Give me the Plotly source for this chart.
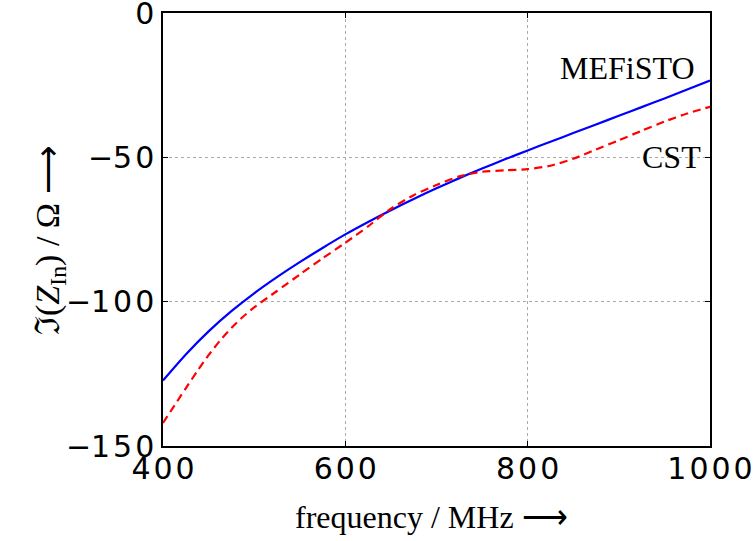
import plotly.graph_objects as go

freq_mefisto = [400, 425, 450, 475, 500, 525, 550, 575, 600, 625, 650, 675, 700, 725,
                750, 775, 800, 825, 850, 875, 900, 925, 950, 975, 1000]
im_mefisto = [-127.3, -118.3, -110.3, -103.3, -97.1, -91.5, -86.3, -81.4, -76.7, -72.4,
              -68.3, -64.4, -60.7, -57.2, -53.9, -50.7, -47.6, -44.6, -41.6, -38.6,
              -35.6, -32.6, -29.6, -26.5, -23.4]

freq_cst = [400, 412.5, 425, 437.5, 450, 462.5, 475, 487.5, 500, 525, 550, 575, 600, 625,
            650, 675, 700, 725, 750, 775, 800, 825, 850, 875, 900, 925, 950, 975, 1000]
im_cst = [-142.0, -136.0, -130.0, -124.1, -118.5, -113.5, -109.1, -105.3, -102.0, -96.3,
          -90.6, -85.0, -79.6, -73.9, -67.8, -63.1, -59.6, -56.6, -55.0, -54.5, -54.1,
          -52.9, -50.5, -47.3, -44.1, -40.8, -37.6, -34.8, -32.5]

x_ticks = [400, 600, 800, 1000]
y_ticks = [0, -50, -100, -150]


def spaced(s):
    return "\u200a".join(s)


fig = go.Figure()
fig.add_trace(go.Scatter(x=freq_mefisto, y=im_mefisto, mode="lines", name="MEFiSTO",
                         line=dict(color="#0000ff", width=2.2, shape="spline", smoothing=0.6)))
fig.add_trace(go.Scatter(x=freq_cst, y=im_cst, mode="lines", name="CST",
                         line=dict(color="#ff0000", width=2.2, dash="8px,5px",
                                   shape="spline", smoothing=0.6)))

axis_common = dict(showline=True, linecolor="black", linewidth=1.5, mirror="ticks",
                   ticks="inside", ticklen=5, tickcolor="black", tickwidth=1,
                   showgrid=True, gridcolor="#aaaaaa", griddash="dot", gridwidth=1,
                   zeroline=False, automargin=False, ticklabeloverflow="allow",
                   tickfont=dict(family="DejaVu Sans", size=30, color="black"))

fig.update_xaxes(range=[400, 1000], tickvals=x_ticks,
                 ticktext=[spaced(str(v)) for v in x_ticks],
                 ticklabelstandoff=-5, **axis_common)
fig.update_yaxes(range=[-150, 0], tickvals=y_ticks,
                 ticktext=[("\u2212" + spaced(str(-v))) if v < 0 else str(v) for v in y_ticks],
                 ticklabelstandoff=1, **axis_common)

serif = dict(family="Liberation Serif", size=32, color="black")
fig.update_layout(
    width=754, height=541,
    margin=dict(l=163, r=44, t=13, b=95),
    plot_bgcolor="white", paper_bgcolor="white",
    showlegend=False,
    annotations=[
        dict(x=910, y=-19, xref="x", yref="y", text="MEFiSTO", showarrow=False, font=serif),
        dict(x=958, y=-50, xref="x", yref="y", text="CST", showarrow=False, font=serif),
        dict(x=(431 - 163) / 547, y=(446 - 537) / 433, xref="paper", yref="paper",
             text="frequency / MHz \u27f6", showarrow=False, font=serif),
        dict(x=(27 - 163) / 547, y=(446 - 240) / 433, xref="paper", yref="paper",
             text="\u2111(<i>Z</i><sub>In</sub>) / \u03a9 \u27f6", textangle=-90,
             showarrow=False, font=dict(family="Liberation Serif", size=34, color="black")),
    ],
)

fig.write_html("out.html", config={"displayModeBar": False},
               post_script="document.body.style.margin='0';")
